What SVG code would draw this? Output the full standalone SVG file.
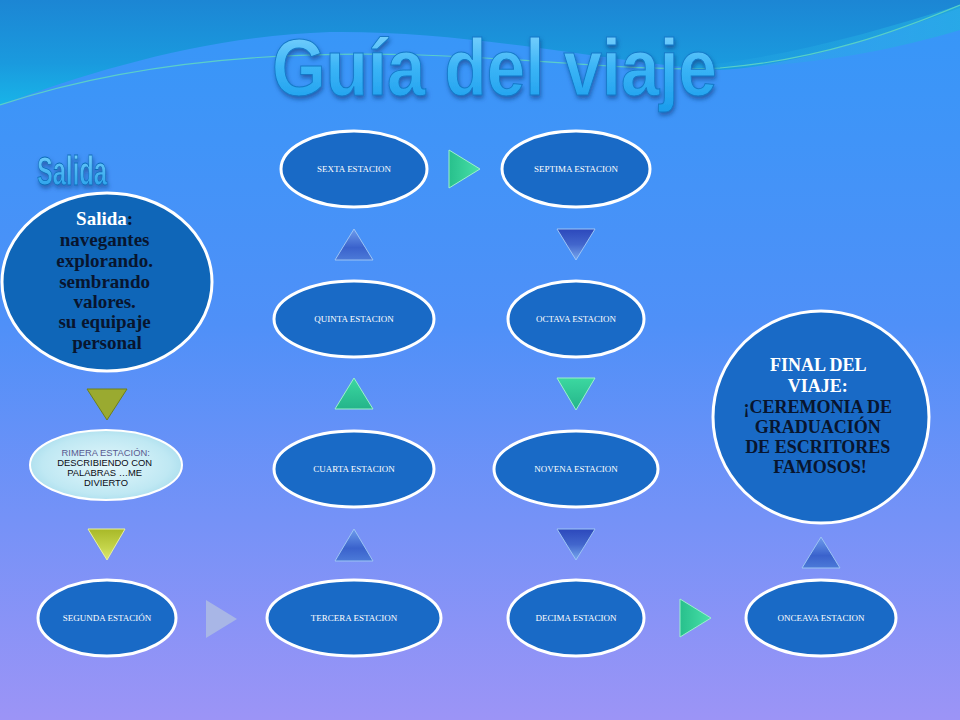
<svg xmlns="http://www.w3.org/2000/svg" width="960" height="720" viewBox="0 0 960 720">
<defs>
<linearGradient id="bg" x1="0" y1="0" x2="0" y2="1">
<stop offset="0" stop-color="#3597f8"/>
<stop offset="0.45" stop-color="#4f90f8"/>
<stop offset="1" stop-color="#9c94f6"/>
</linearGradient>
<linearGradient id="topwave" x1="0" y1="0" x2="0" y2="1">
<stop offset="0" stop-color="#1c86d4"/>
<stop offset="0.6" stop-color="#1a9ade"/>
<stop offset="1" stop-color="#18b4e8"/>
</linearGradient>
<linearGradient id="rightwave" x1="0" y1="0" x2="1" y2="0">
<stop offset="0" stop-color="#2aa8e8" stop-opacity="0"/>
<stop offset="1" stop-color="#22b0e0"/>
</linearGradient>
<linearGradient id="title" x1="0" y1="0" x2="0" y2="1">
<stop offset="0" stop-color="#8ad8ff"/>
<stop offset="0.5" stop-color="#3ab4f6"/>
<stop offset="1" stop-color="#1a9cec"/>
</linearGradient>
<linearGradient id="salidaLbl" x1="0" y1="0" x2="0" y2="1">
<stop offset="0" stop-color="#7ad4ff"/>
<stop offset="1" stop-color="#1e9ae8"/>
</linearGradient>
<linearGradient id="blueUp" x1="0" y1="0" x2="0" y2="1">
<stop offset="0" stop-color="#6e9cec"/>
<stop offset="0.6" stop-color="#3a62cc"/>
<stop offset="1" stop-color="#4c7ad8"/>
</linearGradient>
<linearGradient id="blueDown" x1="0" y1="0" x2="0" y2="1">
<stop offset="0" stop-color="#2c48bc"/>
<stop offset="0.5" stop-color="#4266cc"/>
<stop offset="1" stop-color="#78a8ee"/>
</linearGradient>
<linearGradient id="greenV" x1="0" y1="0" x2="0" y2="1">
<stop offset="0" stop-color="#3cd8a0"/>
<stop offset="1" stop-color="#24b48a"/>
</linearGradient>
<linearGradient id="greenH" x1="0" y1="0" x2="1" y2="0">
<stop offset="0" stop-color="#28c08c"/>
<stop offset="1" stop-color="#48e0a8"/>
</linearGradient>
<linearGradient id="yellowG" x1="0" y1="0" x2="0" y2="1">
<stop offset="0" stop-color="#a8b828"/>
<stop offset="0.6" stop-color="#c4d44a"/>
<stop offset="1" stop-color="#dce870"/>
</linearGradient>
<radialGradient id="primera" cx="0.5" cy="0.5" r="0.6">
<stop offset="0" stop-color="#e4f7fb"/>
<stop offset="0.7" stop-color="#bfe8f3"/>
<stop offset="1" stop-color="#9fd8ea"/>
</radialGradient>
<filter id="shadow" x="-10%" y="-10%" width="120%" height="130%">
<feDropShadow dx="1" dy="3" stdDeviation="2" flood-color="#0a3a80" flood-opacity="0.6"/>
</filter>
<style>
.node ellipse.st{fill:#196ac6;stroke:#ffffff;stroke-width:3}
.lbl{font-family:"Liberation Serif","DejaVu Serif",serif;font-size:9px;fill:#ffffff;text-anchor:middle}
.big{font-family:"Liberation Serif","DejaVu Serif",serif;font-weight:bold;text-anchor:middle;fill:#08152e}
.tri{stroke-width:1}
</style>
</defs>

<rect x="0" y="0" width="960" height="720" fill="url(#bg)"/>
<path d="M0,0 H960 V8 C870,40 790,66 720,70 C620,64 470,30 330,32 C210,36 100,68 0,105 Z" fill="url(#topwave)"/>
<path d="M620,70 C740,70 850,40 960,5 V30 C860,60 760,72 620,70 Z" fill="url(#rightwave)" opacity="0.7"/>
<path d="M0,105 C120,65 260,50 420,55 C560,60 640,72 720,68 C820,60 900,30 960,5" fill="none" stroke="#5ed4c4" stroke-width="1.2" opacity="0.9"/>

<g id="title">
<text x="272" y="95" textLength="445" lengthAdjust="spacingAndGlyphs" font-family="'Liberation Sans','Arial',sans-serif" font-weight="bold" font-size="80" fill="url(#title)" stroke="#1478c8" stroke-width="1" filter="url(#shadow)">Guía del viaje</text>
</g>

<g id="salida-label">
<text x="37" y="185" textLength="70" lengthAdjust="spacingAndGlyphs" font-family="'Liberation Sans','Arial',sans-serif" font-weight="bold" font-size="40" fill="url(#salidaLbl)" stroke="#0e6cb8" stroke-width="0.8" filter="url(#shadow)">Salida</text>
</g>

<g id="connectors">
<polygon class="tri" points="87,389 127,389 107,420" fill="#9aaa30" stroke="#6e8018" stroke-width="2"/>
<polygon class="tri" points="88,529 125,529 107,560" fill="url(#yellowG)" stroke="#e8f0a0"/>
<polygon class="tri" points="206,600 237,619 206,638" fill="#a8b6e6"/>
<polygon class="tri" points="335,561 373,561 354,529" fill="url(#blueUp)" stroke="#9cc4f4"/>
<polygon class="tri" points="335,409 373,409 354,378" fill="url(#greenV)" stroke="#9cf0cc"/>
<polygon class="tri" points="335,260 373,260 354,229" fill="url(#blueUp)" stroke="#9cc4f4"/>
<polygon class="tri" points="449,150 480,169 449,188" fill="url(#greenH)" stroke="#9cf0cc"/>
<polygon class="tri" points="557,229 595,229 576,260" fill="url(#blueDown)" stroke="#9cc4f4"/>
<polygon class="tri" points="557,378 595,378 576,410" fill="url(#greenV)" stroke="#9cf0cc"/>
<polygon class="tri" points="557,529 595,529 576,560" fill="url(#blueDown)" stroke="#9cc4f4"/>
<polygon class="tri" points="680,599 711,618 680,637" fill="url(#greenH)" stroke="#9cf0cc"/>
<polygon class="tri" points="802,568 840,568 821,537" fill="url(#blueUp)" stroke="#9cc4f4"/>
</g>

<g id="salida" class="node">
<ellipse class="st" cx="107" cy="282" rx="105" ry="89" style="fill:#0f66b8"/>
<text class="big" font-size="19">
<tspan x="107" y="225"><tspan fill="#ffffff">Salida</tspan>:</tspan>
<tspan x="107" y="246">navegantes</tspan>
<tspan x="107" y="267">explorando.</tspan>
<tspan x="107" y="288">sembrando</tspan>
<tspan x="107" y="308">valores.</tspan>
<tspan x="107" y="328">su equipaje</tspan>
<tspan x="107" y="349">personal</tspan>
</text>
</g>

<g id="primera" class="node">
<ellipse cx="106" cy="465" rx="76" ry="35" fill="url(#primera)" stroke="#ffffff" stroke-width="2"/>
<text font-family="'Liberation Sans','Arial',sans-serif" font-size="9.4" text-anchor="middle" fill="#0a0a14">
<tspan x="107" y="456" fill="#5a5a90">RIMERA ESTACIÓN:</tspan>
<tspan x="106" y="466">DESCRIBIENDO CON</tspan>
<tspan x="106" y="476">PALABRAS …ME</tspan>
<tspan x="106" y="486">DIVIERTO</tspan>
</text>
</g>

<g id="segunda" class="node">
<ellipse class="st" cx="107" cy="618" rx="69" ry="38"/>
<text class="lbl" x="107" y="621">SEGUNDA ESTACIÓN</text>
</g>

<g id="tercera" class="node">
<ellipse class="st" cx="354" cy="618" rx="87" ry="38"/>
<text class="lbl" x="354" y="621">TERCERA ESTACION</text>
</g>

<g id="cuarta" class="node">
<ellipse class="st" cx="354" cy="469" rx="80" ry="38"/>
<text class="lbl" x="354" y="472">CUARTA ESTACION</text>
</g>

<g id="quinta" class="node">
<ellipse class="st" cx="354" cy="319" rx="80" ry="38"/>
<text class="lbl" x="354" y="322">QUINTA ESTACION</text>
</g>

<g id="sexta" class="node">
<ellipse class="st" cx="354" cy="169" rx="73" ry="38"/>
<text class="lbl" x="354" y="172">SEXTA ESTACION</text>
</g>

<g id="septima" class="node">
<ellipse class="st" cx="576" cy="169" rx="74" ry="38"/>
<text class="lbl" x="576" y="172">SEPTIMA  ESTACION</text>
</g>

<g id="octava" class="node">
<ellipse class="st" cx="576" cy="319" rx="68" ry="38"/>
<text class="lbl" x="576" y="322">OCTAVA  ESTACION</text>
</g>

<g id="novena" class="node">
<ellipse class="st" cx="576" cy="469" rx="82" ry="38"/>
<text class="lbl" x="576" y="472">NOVENA  ESTACION</text>
</g>

<g id="decima" class="node">
<ellipse class="st" cx="576" cy="618" rx="68" ry="38"/>
<text class="lbl" x="576" y="621">DECIMA  ESTACION</text>
</g>

<g id="onceava" class="node">
<ellipse class="st" cx="821" cy="618" rx="75" ry="38"/>
<text class="lbl" x="821" y="621">ONCEAVA  ESTACION</text>
</g>

<g id="final" class="node">
<ellipse class="st" cx="821" cy="417" rx="108" ry="106"/>
<text class="big" font-size="18">
<tspan x="820" y="371" fill="#ffffff">FINAL DEL</tspan>
<tspan x="820" y="392" fill="#ffffff">VIAJE:</tspan>
<tspan x="820" y="413">¡CEREMONIA DE</tspan>
<tspan x="820" y="433">GRADUACIÓN</tspan>
<tspan x="820" y="453">DE ESCRITORES</tspan>
<tspan x="820" y="473">FAMOSOS!</tspan>
</text>
</g>
</svg>
